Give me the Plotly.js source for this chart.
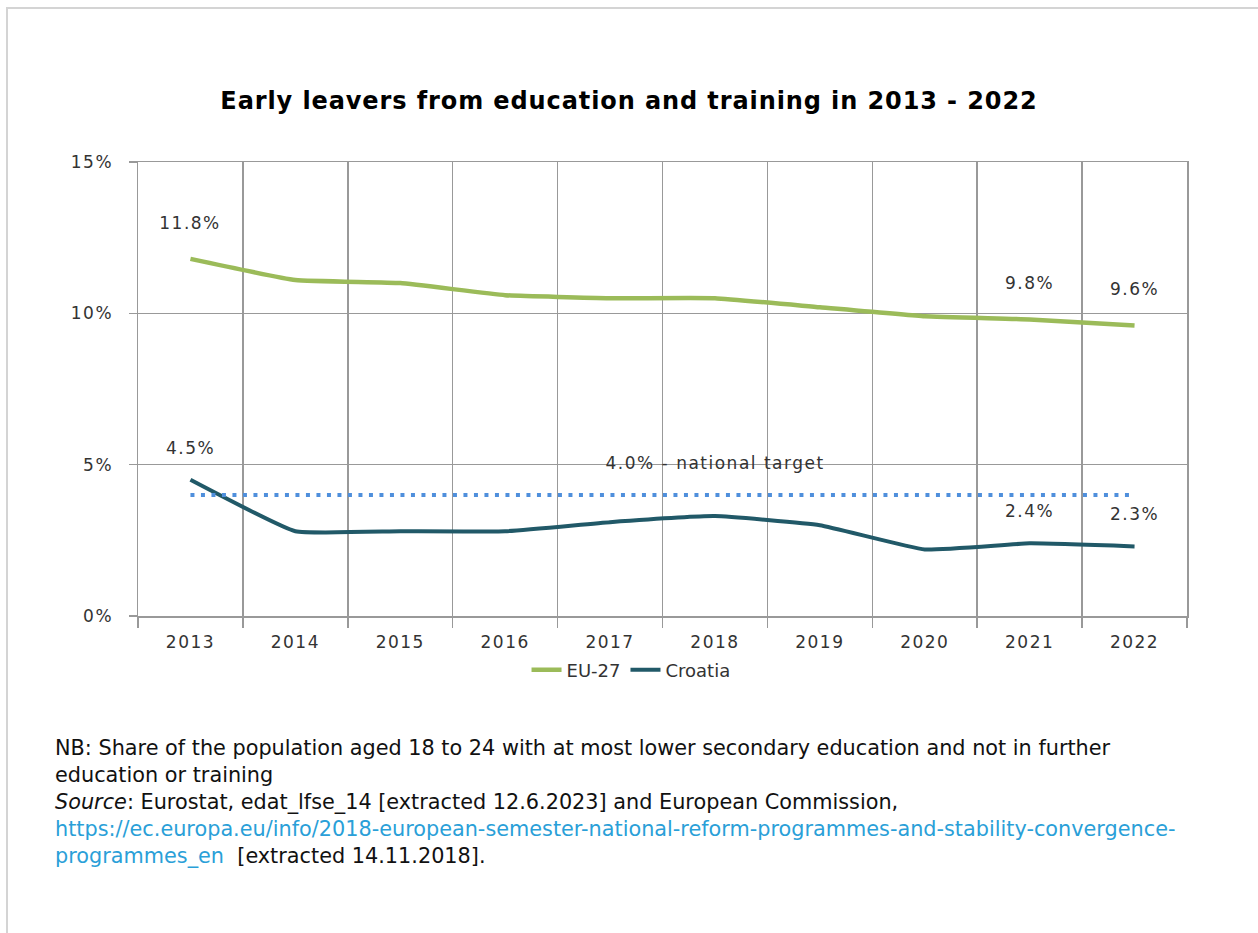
<!DOCTYPE html>
<html><head><meta charset="utf-8">
<script src="https://cdn.plot.ly/plotly-3.0.1.min.js"></script>
<style>
html,body{margin:0;padding:0;background:#fff;overflow:hidden;width:1258px;height:933px;}
#frame{position:absolute;left:6px;top:7px;width:1252px;height:926px;border-left:2px solid #d4d4d4;border-top:2px solid #d4d4d4;pointer-events:none;box-sizing:border-box;}
#chart{position:absolute;left:0;top:0;width:1258px;height:933px;}
#chart .xtick text, #chart .ytick text {letter-spacing:1.5px;}
#chart .annotation text {letter-spacing:1.5px;}
#chart .annotation[data-index="7"] text, #chart .annotation[data-index="8"] text,
#chart .annotation[data-index="9"] text, #chart .annotation[data-index="10"] text,
#chart .annotation[data-index="11"] text {letter-spacing:0;}
#chart .gtitle {letter-spacing:0.9px;}
</style></head>
<body>
<div id="chart"></div>
<div id="frame"></div>
<script>
const years = ['2013','2014','2015','2016','2017','2018','2019','2020','2021','2022'];
const eu27 = [11.8, 11.1, 11.0, 10.6, 10.5, 10.5, 10.2, 9.9, 9.8, 9.6];
const croatia = [4.5, 2.8, 2.8, 2.8, 3.1, 3.3, 3.0, 2.2, 2.4, 2.3];
const target = [4.0, 4.0, 4.0, 4.0, 4.0, 4.0, 4.0, 4.0, 4.0, 4.0];
const yTicks = [0, 5, 10, 15];
const yTickText = ['0%', '5%', '10%', '15%'];
const labelIdx = [0, 8, 9];
const targetLabel = '4.0% - national target';
const targetLabelIdx = 5;
const notes = [
  'NB: Share of the population aged 18 to 24 with at most lower secondary education and not in further',
  'education or training',
  '<i>Source</i>: Eurostat, edat_lfse_14 [extracted 12.6.2023] and European Commission,',
  '<span style="color:#2a9fd8">https://ec.europa.eu/info/2018-european-semester-national-reform-programmes-and-stability-convergence-</span>',
  '<span style="color:#2a9fd8">programmes_en</span>  [extracted 14.11.2018].'
];

const FONT = 'DejaVu Sans, Verdana, sans-serif';
const traces = [
  {x: years, y: eu27, name: 'EU-27', mode: 'lines', type: 'scatter',
   line: {color: '#9bbb59', width: 4.5, shape: 'spline', smoothing: 0.35}},
  {x: years, y: croatia, name: 'Croatia', mode: 'lines', type: 'scatter',
   line: {color: '#215968', width: 4, shape: 'spline', smoothing: 0.35}},
  {x: years, y: target, name: 'target', mode: 'lines', type: 'scatter', showlegend: false,
   line: {color: '#4f8fdc', width: 4, dash: '4px,6.5px'}}
];

const labelFont = {family: FONT, size: 17, color: '#333'};
const annotations = [];
labelIdx.forEach(i => {
  annotations.push({x: i, y: eu27[i], xref: 'x', yref: 'y', text: eu27[i].toFixed(1) + '%',
    showarrow: false, yshift: 36, font: labelFont});
  annotations.push({x: i, y: croatia[i], xref: 'x', yref: 'y', text: croatia[i].toFixed(1) + '%',
    showarrow: false, yshift: 32, font: labelFont});
});
annotations.push({x: targetLabelIdx, y: target[targetLabelIdx], xref: 'x', yref: 'y', text: targetLabel,
  showarrow: false, yshift: 32, font: labelFont});
const noteY = [748, 775, 802, 829, 856];
notes.forEach((t, i) => {
  annotations.push({xref: 'paper', yref: 'paper', x: (53 - 138) / 1049, y: (616 - noteY[i]) / 454,
    xanchor: 'left', yanchor: 'middle', text: t, showarrow: false, align: 'left',
    font: {family: FONT, size: 20.8, color: '#111'}});
});

const layout = {
  width: 1258, height: 933,
  margin: {l: 138, r: 71, t: 162, b: 317},
  paper_bgcolor: '#fff', plot_bgcolor: '#fff',
  title: {text: '<b>Early leavers from education and training in 2013 - 2022</b>',
    x: 0.5, xanchor: 'center', y: 1 - 101 / 933, yanchor: 'middle', yref: 'container',
    font: {family: FONT, size: 24, color: '#000'}},
  xaxis: {type: 'category', range: [-0.5, 9.5], tickson: 'boundaries', showgrid: true,
    gridcolor: '#999', gridwidth: 1.5, showline: true, linecolor: '#999', linewidth: 1.5, mirror: true,
    ticks: 'outside', ticklen: 10, tickcolor: '#999', tickwidth: 1.5, ticklabelstandoff: 10,
    tickfont: {family: FONT, size: 17, color: '#333'}, fixedrange: true, zeroline: false},
  yaxis: {range: [0, 15], tickvals: yTicks, ticktext: yTickText, showgrid: true,
    gridcolor: '#999', gridwidth: 1.5, showline: true, linecolor: '#999', linewidth: 1.5, mirror: true,
    ticks: 'outside', ticklen: 8, tickcolor: '#999', tickwidth: 1.5, ticklabelstandoff: 12,
    tickfont: {family: FONT, size: 17, color: '#333'}, zeroline: false, fixedrange: true},
  legend: {orientation: 'h', x: 0.47, xanchor: 'center', y: (616 - 670) / 454, yanchor: 'middle',
    font: {family: FONT, size: 18, color: '#333'}, itemwidth: 30, tracegroupgap: 0,
    bgcolor: 'rgba(0,0,0,0)'},
  annotations: annotations,
  showlegend: true
};
Plotly.newPlot('chart', traces, layout, {displayModeBar: false, staticPlot: true});
</script>
</body></html>
